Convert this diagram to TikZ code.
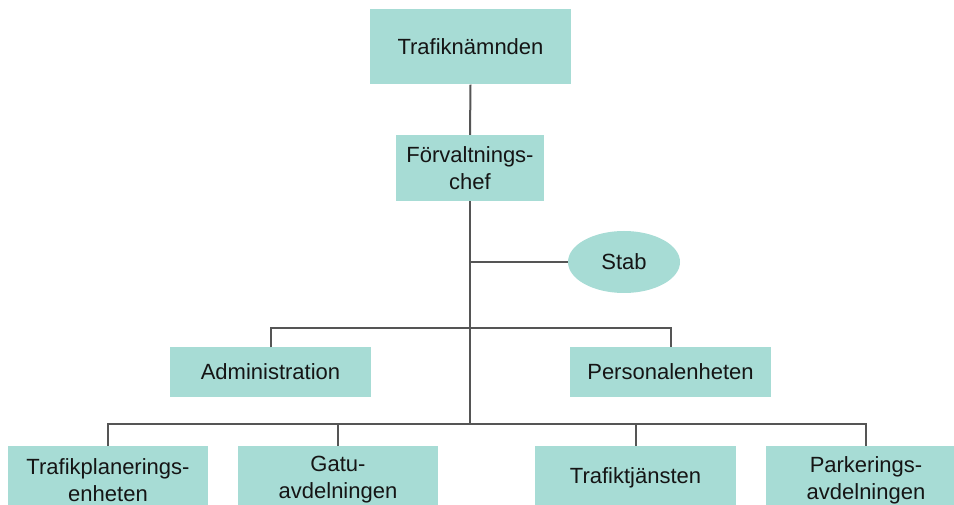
\documentclass[tikz,border=0pt]{standalone}
\usepackage{fontspec}
\setmainfont{Liberation Sans}
\usetikzlibrary{shapes.geometric}
\definecolor{boxfill}{HTML}{A7DCD5}
\definecolor{linegray}{HTML}{555555}
\definecolor{txt}{HTML}{151515}
\begin{document}
\begin{tikzpicture}[x=1pt,y=-1pt,
  orgbox/.style={rectangle,fill=boxfill,draw=none,inner sep=0pt,align=center,text=txt,
    font=\fontsize{22}{27}\selectfont},
  orgoval/.style={ellipse,fill=boxfill,draw=none,inner sep=0pt,text=txt,
    font=\fontsize{22}{27}\selectfont,minimum width=112pt,minimum height=62pt},
  conn/.style={draw=linegray,line width=2pt}]
\useasboundingbox (0,0) rectangle (954,505);
\fill[white] (0,0) rectangle (954,505);
\begin{scope}
\clip (0,0) rectangle (954,505);
\node[orgbox,minimum width=201pt,minimum height=75pt] (tn) at (470.5,47) {Trafiknämnden};
\node[orgbox,minimum width=148pt,minimum height=66pt] (fc) at (470,168) {Förvaltnings-\\chef};
\node[orgoval] (stab) at (624,262) {Stab};
\node[orgbox,minimum width=201pt,minimum height=49pt] (adm) at (270.5,372) {Administration};
\node[orgbox,minimum width=201pt,minimum height=49pt] (pers) at (670.5,372) {Personalenheten};
\node[orgbox,minimum width=200pt,minimum height=68pt] (tpe) at (108,480) {Trafikplanerings-\\enheten};
\node[orgbox,minimum width=200pt,minimum height=68pt] (gatu) at (338,480) {Gatu-\\avdelningen};
\node[orgbox,minimum width=201pt,minimum height=64pt] (tt) at (635.5,478) {Trafiktjänsten};
\node[orgbox,minimum width=200pt,minimum height=68pt] (park) at (866,480) {Parkerings-\\avdelningen};
\coordinate (jstab) at (470,262);
\coordinate (jmid) at (470,328);
\coordinate (jbot) at (470,424);
\draw[conn] (tn.south) -- (fc.north);
\draw[conn] (fc.south) -- (jbot);
\draw[conn] (jstab) -- (stab.west);
\draw[conn] (adm.north) |- (jmid) -| (pers.north);
\draw[conn] (tpe.north) |- (jbot) -| (park.north);
\draw[conn] (gatu.north) -- (gatu.north |- jbot);
\draw[conn] (tt.north) -- (tt.north |- jbot);
\end{scope}
\end{tikzpicture}
\end{document}
